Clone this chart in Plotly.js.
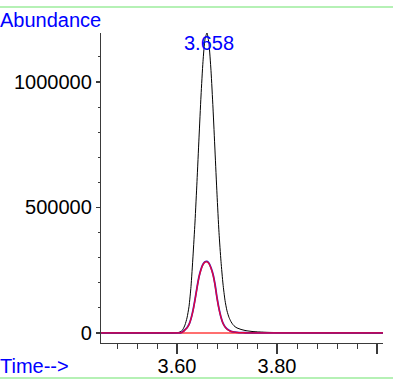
<!DOCTYPE html>
<html>
<head>
<meta charset="utf-8">
<script src="https://cdn.plot.ly/plotly-3.0.1.min.js"></script>
<style>html,body{margin:0;padding:0;background:#fff;}#chart{width:393px;height:381px;}</style>
</head>
<body>
<div id="chart"></div>
<script>
// Retention time (min)
const times = [3.448, 3.500, 3.550, 3.590, 3.600, 3.604, 3.608, 3.612, 3.616, 3.620,
  3.624, 3.628, 3.632, 3.636, 3.640, 3.644, 3.648, 3.652, 3.656, 3.660,
  3.664, 3.668, 3.672, 3.676, 3.680, 3.684, 3.688, 3.692, 3.696, 3.700,
  3.704, 3.708, 3.712, 3.716, 3.720, 3.724, 3.728, 3.732, 3.736, 3.740,
  3.744, 3.748, 3.752, 3.756, 3.760, 3.780, 3.800, 3.850, 3.900, 3.950, 4.012];
// Total abundance (black)
const ticAbund = [0, 0, 0, 0, 1000, 2500, 6000, 15000, 32000, 60000,
  105000, 185000, 306000, 442000, 604000, 777000, 944000, 1082000, 1170000, 1195000,
  1150000, 1045000, 896000, 725000, 553000, 400000, 285000, 195000, 130000, 88000,
  62000, 45000, 33000, 25000, 20000, 17000, 14000, 12000, 10000, 8500,
  7500, 6500, 5500, 5000, 4500, 2500, 1500, 800, 500, 300, 200];
// Ion trace (blue)
const blueAbund = [0, 0, 0, 0, 0, 600, 1700, 5500, 13000, 21000,
  34000, 57000, 90000, 133000, 181000, 224000, 254000, 274000, 284000, 285000,
  278000, 260000, 234000, 194000, 141000, 97000, 63000, 39000, 25000, 16000,
  10500, 6500, 4300, 3200, 2200, 1600, 1300, 1100, 900, 700,
  600, 500, 400, 300, 200, 0, 0, 0, 0, 0, 0];
// Ion trace (red)
const redAbund = [0, 0, 0, 0, 0, 500, 1500, 5000, 12000, 20000,
  33000, 56000, 88000, 131000, 179000, 222000, 252000, 272000, 282000, 283000,
  276000, 258000, 232000, 192000, 139000, 95000, 62000, 38000, 24000, 15000,
  10000, 6000, 4000, 3000, 2000, 1500, 1200, 1000, 800, 600,
  500, 400, 300, 200, 100, 0, 0, 0, 0, 0, 0];
// Integration baseline
const baseTimes = [3.448, 4.012];
const baseAbund = [0, 0];

const peakTime = 3.658;
const peakLabel = '3.658';
const xTickVals = [3.60, 3.80, 4.00];
const xTickText = ['3.60', '3.80', ''];
const yTickVals = [0, 500000, 1000000];
const yTickText = ['0', '500000', '1000000'];

const FONT = 'Arial, "Liberation Sans", sans-serif';
const AX = '#3a3a3a';

const traces = [
  {x: baseTimes, y: baseAbund, mode: 'lines', line: {color: '#ff6f6f', width: 2}, hoverinfo: 'skip'},
  {x: times, y: ticAbund, mode: 'lines', line: {color: '#000000', width: 1, shape: 'spline', smoothing: 0.6}},
  {x: times, y: blueAbund, mode: 'lines', line: {color: '#3a20c8', width: 1.8, shape: 'spline', smoothing: 0.6}},
  {x: times, y: redAbund, mode: 'lines', opacity: 0.92, line: {color: '#f4002e', width: 1.3, shape: 'spline', smoothing: 0.6}}
];

const W = 393, H = 381, L = 101, R = 10, T = 33, B = 38;
const pw = W - L - R, ph = H - T - B;
const px2x = p => (p - L) / pw;
const py2y = p => (H - B - p) / ph;

const layout = {
  width: W, height: H,
  margin: {l: L, r: R, t: T, b: B, pad: 0},
  paper_bgcolor: '#ffffff', plot_bgcolor: '#ffffff',
  showlegend: false,
  font: {family: FONT, size: 20, color: '#000'},
  xaxis: {
    range: [3.448, 4.012], showgrid: false, zeroline: false,
    showline: true, linecolor: AX, linewidth: 1.2,
    ticks: 'outside', ticklen: 10, tickwidth: 1.2, tickcolor: AX,
    ticklabelstandoff: -5,
    tickmode: 'array', tickvals: xTickVals, ticktext: xTickText,
    tickfont: {family: FONT, size: 20, color: '#000'},
    minor: {ticks: 'outside', ticklen: 5, tickwidth: 1, tickcolor: AX, tick0: 3.6, dtick: 0.04, showgrid: false}
  },
  yaxis: {
    range: [-40000, 1195000], showgrid: false, zeroline: false,
    showline: true, linecolor: AX, linewidth: 1.2,
    ticks: 'outside', ticklen: 4, tickwidth: 1.2, tickcolor: AX,
    tickmode: 'array', tickvals: yTickVals, ticktext: yTickText,
    tickfont: {family: FONT, size: 20, color: '#000'},
    minor: {ticks: 'outside', ticklen: 2, tickwidth: 1, tickcolor: AX, tick0: 0, dtick: 100000, showgrid: false}
  },
  annotations: [
    {xref: 'paper', yref: 'paper', x: px2x(-2), y: py2y(20), xanchor: 'left', yanchor: 'middle',
     text: 'Abundance', showarrow: false, font: {family: FONT, size: 20, color: '#0000ff'}},
    {xref: 'paper', yref: 'paper', x: px2x(-2), y: py2y(365.5), xanchor: 'left', yanchor: 'middle',
     text: 'Time-->', showarrow: false, font: {family: FONT, size: 20, color: '#0000ff'}},
    {xref: 'x', yref: 'paper', x: peakTime, xshift: 3, y: py2y(43.5), xanchor: 'center', yanchor: 'middle',
     text: peakLabel, showarrow: false, font: {family: FONT, size: 20, color: '#0000ff'}}
  ],
  shapes: [
    {type: 'line', xref: 'paper', yref: 'paper', x0: px2x(0), x1: px2x(W), y0: py2y(7), y1: py2y(7),
     line: {color: '#9cec9c', width: 1.5}},
    {type: 'line', xref: 'paper', yref: 'paper', x0: px2x(0), x1: px2x(W), y0: py2y(378), y1: py2y(378),
     line: {color: '#9cec9c', width: 1.5}}
  ]
};

Plotly.newPlot('chart', traces, layout, {staticPlot: true, displayModeBar: false});
</script>
</body>
</html>
